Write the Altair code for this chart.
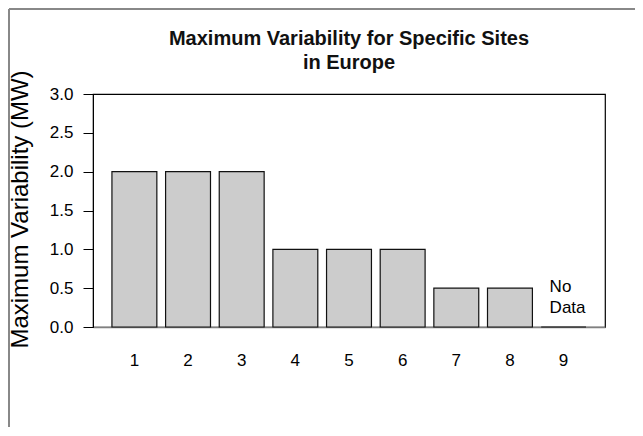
import altair as alt
import pandas as pd

sites = ["1", "2", "3", "4", "5", "6", "7", "8", "9"]
values = [2.0, 2.0, 2.0, 1.0, 1.0, 1.0, 0.5, 0.5, 0.0]
notes = ["", "", "", "", "", "", "", "", "No Data"]
y_ticks = [0, 0.5, 1, 1.5, 2, 2.5, 3]

df = pd.DataFrame({"site": sites, "value": values, "note": notes})
FONT = "Liberation Sans"

x_enc = alt.X(
    "site:N",
    sort=sites,
    scale=alt.Scale(paddingInner=0.163, paddingOuter=0.353),
    axis=alt.Axis(
        title=None, labelAngle=0, ticks=False, labelPadding=25,
        labelFontSize=17, labelColor="black", domainColor="#808080",
        domainWidth=1.5, labelFont=FONT,
    ),
)
y_enc = alt.Y(
    "value:Q",
    scale=alt.Scale(domain=[0, 3], nice=False),
    axis=alt.Axis(
        title="Maximum Variability (MW)", values=y_ticks, format=".1f",
        tickCount=7, grid=False, tickSize=10, tickColor="black", domainColor="black",
        labelPadding=10, labelFontSize=17, labelColor="black", labelFont=FONT,
        labelOverlap=False,
        titleFontSize=24, titleFontWeight="normal", titleColor="black", titleFont=FONT,
        titleX=-73, titleY=115, titleAngle=270, titleAlign="center",
        titleBaseline="middle",
    ),
)

base = alt.Chart(df).encode(x=x_enc, y=y_enc)

bars = base.mark_bar(fill="#cccccc", stroke="#111111", strokeWidth=1.2)

label = base.transform_filter("datum.note != ''").mark_text(
    align="left", baseline="alphabetic", dx=-14, dy=-35, lineBreak=" ",
    lineHeight=21, fontSize=17, font=FONT, color="black"
).encode(text="note:N")

frame_df = pd.DataFrame({"k": [0]})
left_border = alt.Chart(frame_df).mark_rule(color="#888888", strokeWidth=2).encode(
    x=alt.value(-84), y=alt.value(-85), y2=alt.value(333)
)
top_border = alt.Chart(frame_df).mark_rule(color="#888888", strokeWidth=2).encode(
    x=alt.value(-84), x2=alt.value(560), y=alt.value(-85)
)

chart = alt.layer(bars, label, left_border, top_border).properties(
    width=512,
    height=233,
    background="white",
    padding={"left": 85, "top": 86, "right": 30, "bottom": 100},
    autosize=alt.AutoSizeParams(type="none"),
    title=alt.TitleParams(
        text=["Maximum Variability for Specific Sites", "in Europe"],
        fontSize=20, fontWeight="bold", font=FONT, color="#111111",
        anchor="middle", lineHeight=24, offset=-65,
    ),
).configure_view(stroke="black", strokeWidth=1.2)

chart.save("out.html", embed_options={"renderer": "svg", "actions": False})
